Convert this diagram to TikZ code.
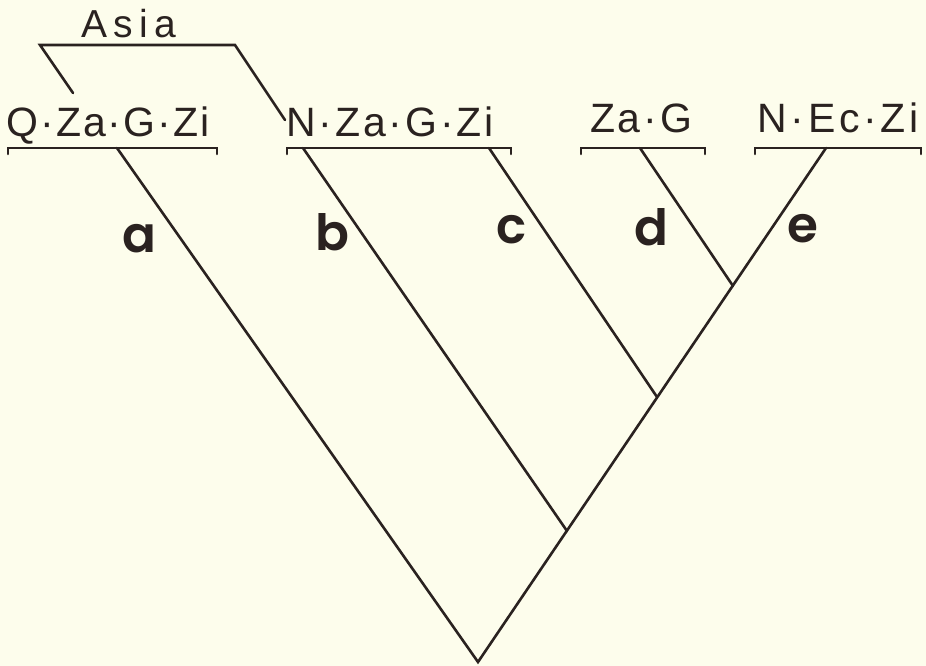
\documentclass[tikz,border=0pt]{standalone}
\usepackage{fontspec}
\setmainfont{Liberation Sans}
\newfontfamily\branchfont{Poppins}[UprightFont=* SemiBold]
\definecolor{paper}{RGB}{253,253,236}
\definecolor{ink}{RGB}{42,34,32}
\begin{document}
\begin{tikzpicture}[x=1pt,y=-1pt,
  line/.style={draw=ink,line width=2.6pt,line cap=round,line join=miter},
  taxon/.style={text=ink,inner sep=0pt,anchor=base},
  tfont/.style={font=\fontsize{41}{43}\selectfont\addfontfeature{LetterSpace=#1}},
  branch/.style={text=ink,inner sep=0pt,anchor=base,font=\fontsize{50}{52}\selectfont\branchfont}]
\fill[paper] (0,0) rectangle (926,666);
\useasboundingbox (0,0) rectangle (926,666);
% junctions
\coordinate (root) at (478,662);
\coordinate (jb) at (567,531);
\coordinate (jc) at (657,397);
\coordinate (jd) at (733,286);
% bracket attachment points
\coordinate (ta) at (117,148);
\coordinate (tb) at (303,148);
\coordinate (tc) at (489,148);
\coordinate (td) at (640,148);
\coordinate (te) at (826,148);
% brackets
\coordinate (qa1) at (8,148);  \coordinate (qa2) at (217,148);
\coordinate (nb1) at (287,148); \coordinate (nb2) at (511,148);
\coordinate (zd1) at (581,148); \coordinate (zd2) at (705,148);
\coordinate (ne1) at (755,148); \coordinate (ne2) at (921,148);
\draw[line] ([yshift=-6pt]qa1) -- (qa1) -- (qa2) -- ([yshift=-6pt]qa2);
\draw[line] ([yshift=-6pt]nb1) -- (nb1) -- (nb2) -- ([yshift=-6pt]nb2);
\draw[line] ([yshift=-6pt]zd1) -- (zd1) -- (zd2) -- ([yshift=-6pt]zd2);
\draw[line] ([yshift=-6pt]ne1) -- (ne1) -- (ne2) -- ([yshift=-6pt]ne2);
% tree
\draw[line] (ta) -- (root) -- (te);
\draw[line] (tb) -- (jb);
\draw[line] (tc) -- (jc);
\draw[line] (td) -- (jd);
% Asia bracket
\coordinate (as1) at (73,93);
\coordinate (as2) at (40,45);
\coordinate (as3) at (235,45);
\coordinate (as4) at (285,120);
\draw[line] (as1) -- (as2) -- (as3) -- (as4);
% taxon labels
\node[taxon,tfont=5] (lq) at (108,137) {Q·Za·G·Zi};
\node[taxon,tfont=7] (ln) at (390,137) {N·Za·G·Zi};
\node[taxon,tfont=7] (lz) at (641,133) {Za·G};
\node[taxon,tfont=9] (le) at (838,132) {N·Ec·Zi};
\node[taxon,font=\fontsize{39}{41}\selectfont\addfontfeature{LetterSpace=16}] (lasia) at (129,38) {Asia};
% branch labels
\node[branch] (ba) at (139,252) {a};
\node[branch] (bb) at (332,250) {b};
\node[branch] (bc) at (512,243) {c};
\node[branch] (bd) at (651,245) {d};
\node[branch] (be) at (803,242) {e};
\end{tikzpicture}
\end{document}
